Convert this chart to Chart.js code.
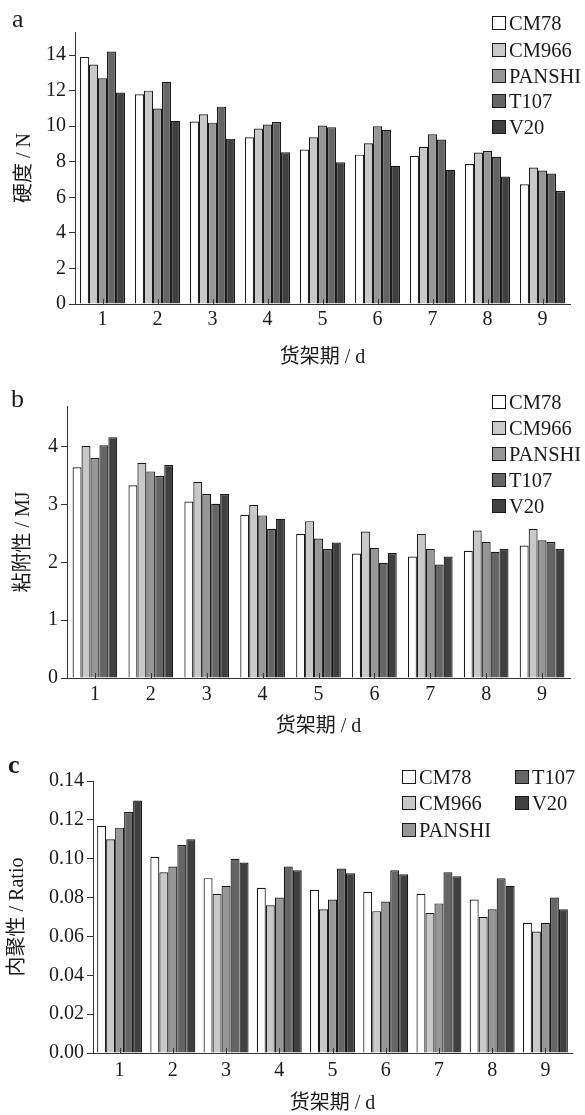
<!DOCTYPE html>
<html>
<head>
<meta charset="utf-8">
<script src="https://cdn.jsdelivr.net/npm/chart.js@4.4.1/dist/chart.umd.min.js"></script>
<style>
  body { margin: 0; background: #fff; width: 585px; height: 1115px; position: relative; overflow: hidden;
         font-family: "Liberation Serif", "Noto Sans CJK SC", serif; color: #1a1a1a; }
  canvas { position: absolute; left: 0; }
  .letter { position: absolute; font-size: 26px; line-height: 26px; }
  .leg { position: absolute; font-size: 20.5px; height: 26px; line-height: 26px; display: flex; align-items: center; white-space: nowrap; }
  .leg i { display: inline-block; width: 12px; height: 12px; border: 1px solid #1a1a1a; margin-right: 3px; }
</style>
</head>
<body>
<canvas id="hard" width="585" height="372" style="top:0"></canvas>
<canvas id="adh" width="585" height="368" style="top:372px"></canvas>
<canvas id="coh" width="585" height="375" style="top:740px"></canvas>

<div class="letter" style="left:12px;top:6px">a</div>
<div class="letter" style="left:11px;top:386px">b</div>
<div class="letter" style="left:8px;top:752px;font-weight:bold">c</div>
<div id="legends"></div>

<script>
const days = ['1', '2', '3', '4', '5', '6', '7', '8', '9'];
const cultivars = ['CM78', 'CM966', 'PANSHI', 'T107', 'V20'];

// 硬度 / N
const hardCM78   = [13.9, 11.8, 10.26, 9.38, 8.69, 8.4, 8.33, 7.87, 6.74];
const hardCM966  = [13.47, 12.0, 10.67, 9.87, 9.38, 9.04, 8.84, 8.52, 7.68];
const hardPANSHI = [12.7, 11.0, 10.2, 10.1, 10.04, 10.0, 9.55, 8.61, 7.51];
const hardT107   = [14.2, 12.5, 11.1, 10.24, 9.94, 9.8, 9.25, 8.28, 7.34];
const hardV20    = [11.9, 10.3, 9.3, 8.54, 7.98, 7.77, 7.55, 7.17, 6.35];

// 粘附性 / MJ
const adhCM78   = [3.64, 3.33, 3.05, 2.82, 2.49, 2.15, 2.10, 2.20, 2.29];
const adhCM966  = [4.01, 3.72, 3.39, 2.99, 2.71, 2.53, 2.49, 2.55, 2.58];
const adhPANSHI = [3.80, 3.57, 3.18, 2.81, 2.41, 2.25, 2.23, 2.35, 2.38];
const adhT107   = [4.02, 3.49, 3.01, 2.58, 2.23, 1.99, 1.96, 2.18, 2.35];
const adhV20    = [4.16, 3.68, 3.18, 2.75, 2.34, 2.16, 2.10, 2.23, 2.23];

// 内聚性 / Ratio
const cohCM78   = [0.117, 0.101, 0.090, 0.085, 0.084, 0.083, 0.082, 0.079, 0.067];
const cohCM966  = [0.110, 0.093, 0.082, 0.076, 0.074, 0.073, 0.072, 0.070, 0.0625];
const cohPANSHI = [0.116, 0.096, 0.086, 0.080, 0.079, 0.078, 0.077, 0.074, 0.067];
const cohT107   = [0.124, 0.107, 0.100, 0.096, 0.095, 0.094, 0.093, 0.090, 0.080];
const cohV20    = [0.130, 0.110, 0.098, 0.094, 0.0925, 0.092, 0.091, 0.086, 0.074];

const fills = ['#ffffff', '#c9c9c9', '#979797', '#656565', '#404040'];
const ink = '#1a1a1a';
const font = { family: "'Liberation Serif', 'Noto Sans CJK SC', serif", size: 20 };

// small tick marks pointing up into the plot at each category
const innerTicks = {
  id: 'innerTicks',
  afterDatasetsDraw(chart) {
    const { ctx, chartArea, scales: { x } } = chart;
    ctx.save();
    ctx.strokeStyle = '#333';
    ctx.lineWidth = 1;
    ctx.beginPath();
    x.ticks.forEach((t, i) => {
      const px = Math.round(x.getPixelForTick(i)) + 0.5;
      ctx.moveTo(px, chartArea.bottom);
      ctx.lineTo(px, chartArea.bottom - 5);
    });
    ctx.stroke();
    ctx.restore();
  }
};

function panel(id, series, o) {
  return new Chart(document.getElementById(id), {
    type: 'bar',
    plugins: [innerTicks],
    data: {
      labels: days,
      datasets: cultivars.map((c, i) => ({
        label: c,
        data: series[i],
        backgroundColor: fills[i],
        borderColor: ink,
        borderWidth: 1.2,
        categoryPercentage: o.cat,
        barPercentage: 1
      }))
    },
    options: {
      responsive: false,
      animation: false,
      layout: { padding: { top: o.top, right: o.right, bottom: 0, left: 0 } },
      plugins: { legend: { display: false }, tooltip: { enabled: false } },
      scales: {
        x: {
          grid: { display: false },
          border: { color: '#333', width: 1 },
          ticks: { font: font, color: ink, padding: o.xpad },
          title: { display: true, text: '货架期 / d', font: font, color: ink, padding: { top: 0, bottom: o.tpad } },
          afterFit: s => { s.height = o.xh; }
        },
        y: {
          min: 0,
          max: o.max,
          ticks: { stepSize: o.step, includeBounds: false, font: font, color: ink, padding: 3,
                   callback: v => o.dec ? v.toFixed(o.dec) : v },
          grid: { drawOnChartArea: false, tickLength: 6, color: '#333' },
          border: { color: '#333', width: 1 },
          title: { display: true, text: o.ytitle, font: font, color: ink, padding: { top: o.ytpad, bottom: 0 } },
          afterFit: s => { s.width = o.yw; }
        }
      }
    }
  });
}

panel('hard', [hardCM78, hardCM966, hardPANSHI, hardT107, hardV20],
  { cat: 0.82, top: 32, right: 15, xh: 68, yw: 75, max: 15.3, step: 2, xpad: -4, tpad: 2, ytpad: 13, ytitle: '硬度 / N' });
panel('adh', [adhCM78, adhCM966, adhPANSHI, adhT107, adhV20],
  { cat: 0.80, top: 34, right: 15, xh: 62, yw: 67, max: 4.7, step: 1, xpad: -3, tpad: 1, ytpad: 12, ytitle: '粘附性 / MJ' });
panel('coh', [cohCM78, cohCM966, cohPANSHI, cohT107, cohV20],
  { cat: 0.845, top: 41, right: 13, xh: 62, yw: 93, max: 0.14, step: 0.02, dec: 2, xpad: -2, tpad: -1, ytpad: 6, ytitle: '内聚性 / Ratio' });

// legend rows: swatch left edge and row centre
const legendSpots = [
  { x: 492, y: [23, 50, 76, 101, 127] },
  { x: 492, y: [402, 428, 454, 480, 506] },
  { x: [402, 402, 402, 515, 515], y: [777, 803, 830, 777, 803] }
];
const box = document.getElementById('legends');
legendSpots.forEach(spot => {
  cultivars.forEach((c, i) => {
    const d = document.createElement('div');
    d.className = 'leg';
    d.style.left = (Array.isArray(spot.x) ? spot.x[i] : spot.x) + 'px';
    d.style.top = (spot.y[i] - 13) + 'px';
    d.innerHTML = '<i style="background:' + fills[i] + '"></i>' + c;
    box.appendChild(d);
  });
});
</script>
</body>
</html>
